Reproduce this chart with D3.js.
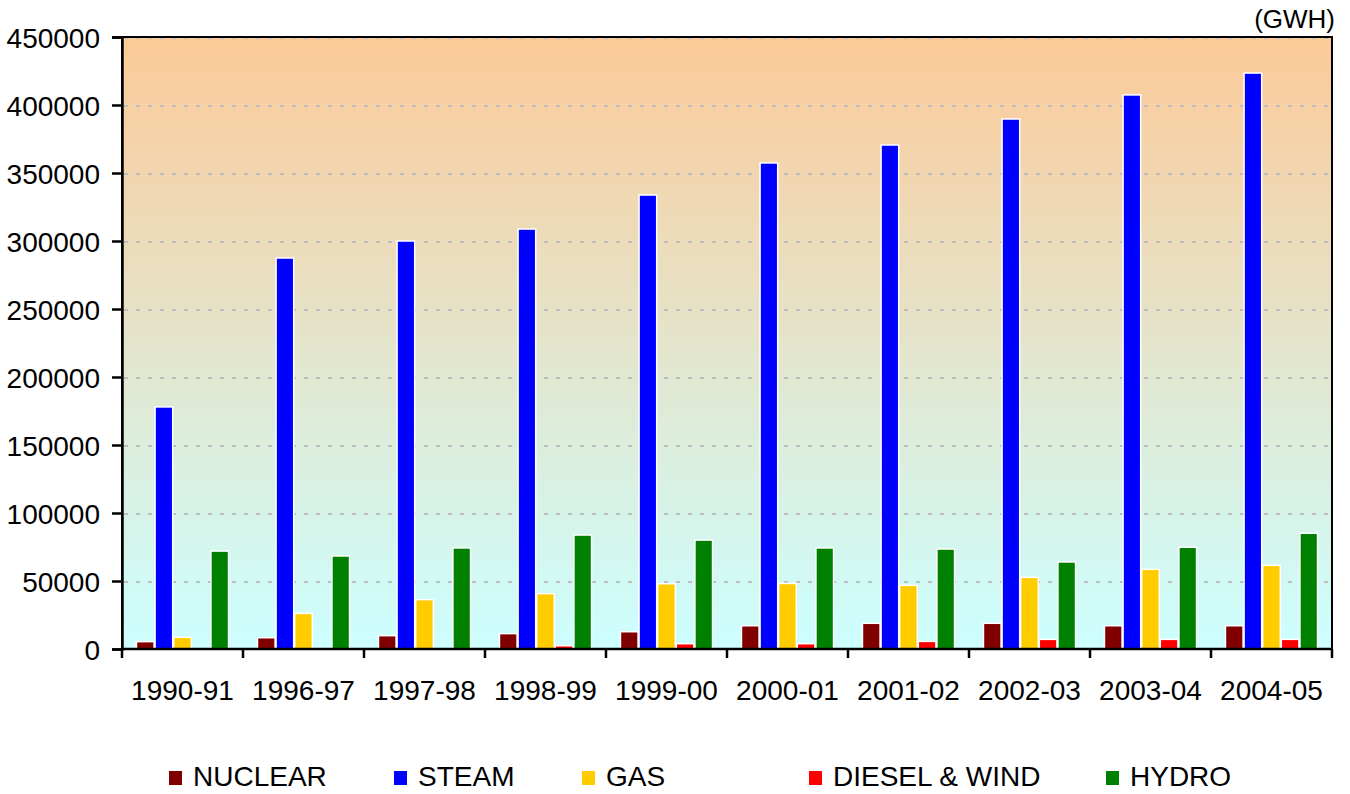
<!DOCTYPE html>
<html>
<head>
<meta charset="utf-8">
<script src="https://cdn.jsdelivr.net/npm/d3@7"></script>
<style>
  html, body { margin: 0; padding: 0; background: #ffffff; }
  svg { display: block; }
  text { font-family: "Liberation Sans", Arial, sans-serif; fill: #000; }
</style>
</head>
<body>
<svg id="chart" width="1350" height="794"></svg>
<script>
const categories = ["1990-91","1996-97","1997-98","1998-99","1999-00","2000-01","2001-02","2002-03","2003-04","2004-05"];
const seriesNames = ["NUCLEAR","STEAM","GAS","DIESEL & WIND","HYDRO"];
const seriesColors = ["#800000","#0000FF","#FFCC00","#FF0000","#008000"];
const nuclear = [5400, 8300, 9800, 11300, 12700, 17100, 18900, 18900, 17100, 17100];
const steam   = [178000, 287500, 300000, 308800, 333800, 357400, 370600, 389700, 407400, 423500];
const gas     = [8600, 26200, 36300, 40700, 48000, 48200, 46800, 52700, 58600, 61500];
const diesel  = [0, 300, 0, 2400, 3900, 3900, 5600, 7100, 7100, 7100];
const hydro   = [72000, 68400, 74300, 83800, 80100, 74300, 73500, 64000, 74800, 85100];
const yTicks = [0, 50000, 100000, 150000, 200000, 250000, 300000, 350000, 400000, 450000];
const unitLabel = "(GWH)";

const seriesValues = [nuclear, steam, gas, diesel, hydro];

const svg = d3.select("#chart");
const m = { left: 122, right: 1332, top: 37, bottom: 649 };
const FS = "28px";

const x0 = d3.scaleBand().domain(categories).range([m.left, m.right]).paddingInner(0).paddingOuter(0);
const x1 = d3.scaleBand().domain(seriesNames).range([0, x0.bandwidth()]).paddingInner(0).paddingOuter(0.75);
const y = d3.scaleLinear().domain([0, 450000]).range([m.bottom, m.top]);

// background gradient
const defs = svg.append("defs");
const grad = defs.append("linearGradient").attr("id", "bg").attr("x1", 0).attr("y1", 0).attr("x2", 0).attr("y2", 1);
grad.append("stop").attr("offset", "0%").attr("stop-color", "#FCCA98");
grad.append("stop").attr("offset", "100%").attr("stop-color", "#CCFFFF");

svg.append("rect")
  .attr("x", m.left).attr("y", m.top)
  .attr("width", m.right - m.left).attr("height", m.bottom - m.top)
  .attr("fill", "url(#bg)");

// gridlines
svg.append("g").selectAll("line")
  .data(yTicks.filter(d => d > 0))
  .join("line")
  .attr("x1", m.left + 2).attr("x2", m.right - 2)
  .attr("y1", d => y(d) + 1).attr("y2", d => y(d) + 1)
  .attr("stroke", "#BDBDBD").attr("stroke-width", 2)
  .attr("stroke-dasharray", "4,8");

// bars
const groups = svg.append("g").selectAll("g")
  .data(categories)
  .join("g")
  .attr("transform", d => `translate(${x0(d)},0)`);

groups.selectAll("rect")
  .data((c, i) => seriesNames.map((s, k) => ({ s, k, v: seriesValues[k][i] })))
  .join("rect")
  .filter(d => d.v > 0)
  .attr("x", d => x1(d.s) + 0.5)
  .attr("width", x1.bandwidth() - 1)
  .attr("y", d => y(d.v))
  .attr("height", d => y(0) - y(d.v))
  .attr("fill", d => seriesColors[d.k])
  .attr("stroke", "#FFFFFF")
  .attr("stroke-width", 1.5);

// frame
svg.append("rect")
  .attr("x", m.left).attr("y", m.top)
  .attr("width", m.right - m.left).attr("height", m.bottom - m.top)
  .attr("fill", "none").attr("stroke", "#000").attr("stroke-width", 2);

// y axis
const yAxis = d3.axisLeft(y).tickValues(yTicks).tickSize(10).tickPadding(12).tickFormat(d3.format("d"));
const gy = svg.append("g").attr("transform", `translate(${m.left},0)`).call(yAxis);
gy.select(".domain").attr("stroke-width", 2.5);
gy.selectAll(".tick line").attr("stroke-width", 2.5);
gy.selectAll(".tick text")
  .style("font-family", '"Liberation Sans", Arial, sans-serif')
  .style("font-size", FS).attr("fill", "#000").attr("dy", "0.36em");

// x axis: ticks at group boundaries
const gx = svg.append("g").attr("transform", `translate(0,${m.bottom})`);
gx.append("line").attr("x1", m.left).attr("x2", m.right).attr("y1", 0).attr("y2", 0)
  .attr("stroke", "#000").attr("stroke-width", 2.5);
const boundaries = categories.map(c => x0(c)).concat([x0(categories[categories.length - 1]) + x0.bandwidth()]);
gx.selectAll("line.tk").data(boundaries).join("line").attr("class", "tk")
  .attr("x1", d => d).attr("x2", d => d).attr("y1", 0).attr("y2", 9)
  .attr("stroke", "#000").attr("stroke-width", 2.5);
gx.selectAll("text").data(categories).join("text")
  .attr("x", d => x0(d) + x0.bandwidth() / 2)
  .attr("y", 51)
  .attr("text-anchor", "middle")
  .style("font-size", FS)
  .text(d => d);

// unit label
svg.append("text").attr("x", 1335).attr("y", 28).attr("text-anchor", "end")
  .style("font-size", "26px").text(unitLabel);

// legend
const legendX = [169, 394, 582, 809, 1106];
const lg = svg.append("g").selectAll("g").data(seriesNames).join("g")
  .attr("transform", (d, i) => `translate(${legendX[i]},0)`);
lg.append("rect").attr("x", 0).attr("y", 771).attr("width", 13).attr("height", 14)
  .attr("fill", (d, i) => seriesColors[i]);
lg.append("text").attr("x", 24).attr("y", 786).style("font-size", FS).text(d => d);
</script>
</body>
</html>
